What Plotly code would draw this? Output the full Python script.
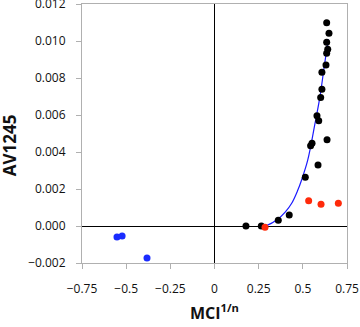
import plotly.graph_objects as go

# Black points
black_x = [0.635, 0.648, 0.635, 0.641, 0.635, 0.631, 0.608, 0.608, 0.601, 0.580,
           0.590, 0.637, 0.552, 0.544, 0.586, 0.514, 0.423, 0.361, 0.265, 0.178]
black_y = [0.01099, 0.01042, 0.00993, 0.00955, 0.00934, 0.0087, 0.00831, 0.00739, 0.00694, 0.00596,
           0.00569, 0.00466, 0.00447, 0.00434, 0.0033, 0.00263, 0.00059, 0.00031, 0.0, 0.0]

# Red points
red_x = [0.286, 0.533, 0.603, 0.701]
red_y = [-0.00007, 0.00137, 0.00117, 0.00123]

# Blue points
blue_x = [-0.552, -0.523, -0.382]
blue_y = [-0.00059, -0.00054, -0.00173]

# Fitted curve
fit_x = [0.270, 0.300, 0.352, 0.400, 0.437, 0.470, 0.493, 0.528, 0.569, 0.597, 0.621, 0.644]
fit_y = [0.0, 0.00005, 0.00032, 0.00075, 0.00123, 0.0019, 0.00249, 0.00357, 0.00555, 0.00699, 0.00861, 0.0101]

x_ticks = [-0.75, -0.5, -0.25, 0, 0.25, 0.5, 0.75]
y_ticks = [-0.002, 0.0, 0.002, 0.004, 0.006, 0.008, 0.010, 0.012]

font = 'Open Sans, Liberation Sans, sans-serif'

fig = go.Figure()
fig.add_trace(go.Scatter(x=fit_x, y=fit_y, mode='lines', line=dict(color='#1a1aff', width=1.2, shape='spline')))
fig.add_trace(go.Scatter(x=black_x, y=black_y, mode='markers', marker=dict(color='black', size=7)))
fig.add_trace(go.Scatter(x=red_x, y=red_y, mode='markers', marker=dict(color='#ff2a0a', size=7)))
fig.add_trace(go.Scatter(x=blue_x, y=blue_y, mode='markers', marker=dict(color='#1a2cff', size=7)))

axis_common = dict(
    showgrid=False, showline=True, linecolor='#b0b0b0', linewidth=1, mirror=True,
    ticks='outside', ticklen=5, tickcolor='#b0b0b0',
    zeroline=True, zerolinecolor='black', zerolinewidth=1,
    automargin=False, ticklabeloverflow='allow',
    tickfont=dict(family=font, size=12, color='#111'),
)

fig.update_layout(
    width=360, height=327,
    margin=dict(l=82, r=13, t=4, b=64, autoexpand=False),
    plot_bgcolor='white', paper_bgcolor='white',
    showlegend=False,
    xaxis=dict(range=[-0.75, 0.75], tickvals=x_ticks, ticklabelstandoff=10, **axis_common),
    yaxis=dict(range=[-0.002, 0.012], tickvals=y_ticks, tickformat='.3f', ticklabelstandoff=8, **axis_common),
    annotations=[
        dict(text='<b>MCI<sup>1/n</sup></b>', xref='paper', yref='paper', x=0.4, y=-0.19,
             xanchor='left', yanchor='middle', showarrow=False,
             font=dict(family=font, size=16, color='#111')),
        dict(text='<b>AV1245</b>', xref='paper', yref='paper', x=-0.275, y=0.455,
             xanchor='center', yanchor='middle', textangle=-90, showarrow=False,
             font=dict(family=font, size=17, color='#111')),
    ],
)

fig.write_html('out.html', config={'displayModeBar': False},
               post_script="document.body.style.margin='0';")
